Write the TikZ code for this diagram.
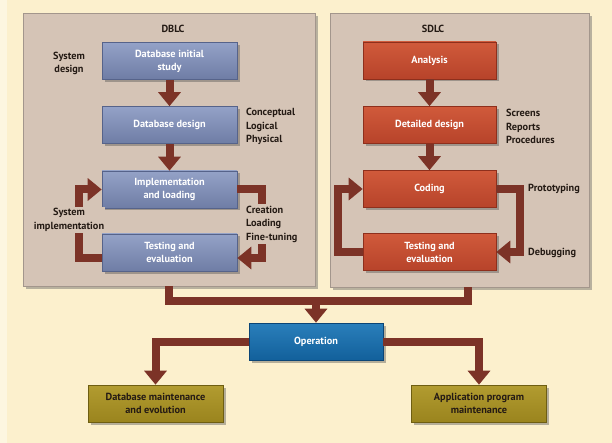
\documentclass[tikz,border=0pt]{standalone}
\usepackage{fontspec}
\setmainfont{PT Sans}
\usetikzlibrary{arrows.meta,shadows}
\definecolor{bg}{HTML}{FCF0CD}
\definecolor{bglight}{HTML}{FDF6E0}
\definecolor{panelc}{HTML}{D5C4B6}
\definecolor{paneledge}{HTML}{A3968C}
\definecolor{arr}{HTML}{7C3327}
\definecolor{lbltext}{HTML}{241A14}
\definecolor{bluetop}{HTML}{94A2C7}
\definecolor{bluebot}{HTML}{6F7DA5}
\definecolor{blueedge}{HTML}{56638A}
\definecolor{redtop}{HTML}{D05A3B}
\definecolor{redbot}{HTML}{B7432A}
\definecolor{rededge}{HTML}{8E2F1C}
\definecolor{optop}{HTML}{2A7FBB}
\definecolor{opbot}{HTML}{12609B}
\definecolor{opedge}{HTML}{0B4576}
\definecolor{oltop}{HTML}{B29C30}
\definecolor{olbot}{HTML}{9A841E}
\definecolor{oledge}{HTML}{6E5E12}
\begin{document}
\begin{tikzpicture}[x=1pt,y=-1pt,
  panel/.style={fill=panelc, draw=paneledge, line width=0.8pt,
    drop shadow={shadow xshift=3pt,shadow yshift=-3pt,opacity=0.45,fill=black!60}},
  box/.style={minimum height=37pt, inner sep=2pt, align=center, text=white,
    font=\bfseries\fontsize{10.3}{13}\selectfont, line width=0.6pt,
    drop shadow={shadow xshift=2.5pt,shadow yshift=-2.5pt,opacity=0.4,fill=black!70}},
  bluebox/.style={box, minimum width=135pt, top color=bluetop, bottom color=bluebot, draw=blueedge},
  redbox/.style={box, minimum width=133pt, top color=redtop, bottom color=redbot, draw=rededge},
  opbox/.style={box, minimum width=134pt, top color=optop, bottom color=opbot, draw=opedge},
  olbox/.style={box, minimum width=135pt, top color=oltop, bottom color=olbot, draw=oledge, text=lbltext},
  lbl/.style={font=\bfseries\fontsize{10.3}{13.5}\selectfont, text=lbltext, align=left, inner sep=1pt},
  flow/.style={draw=arr, line width=8pt, -{Triangle[width=22pt,length=14pt]}},
  conn/.style={draw=arr, line width=8pt}]
\useasboundingbox (0,0) rectangle (612,443);
\fill[bg] (0,0) rectangle (612,443);
\fill[bglight] (0,0) rectangle (7,443);

% panels
\node[panel, minimum width=292pt, minimum height=273pt] (lp) at (169,149.5) {};
\node[panel, minimum width=259pt, minimum height=274pt] (rp) at (459.5,150) {};
\node[lbl] (dblc) at (173,29) {DBLC};
\node[lbl] (sdlc) at (433,29) {SDLC};

% DBLC boxes
\node[bluebox] (dis) at (169.5,61) {Database initial\\study};
\node[bluebox] (dd) at (169.5,125) {Database design};
\node[bluebox] (impl) at (169.5,189.5) {Implementation\\and loading};
\node[bluebox] (test) at (169.5,252.5) {Testing and\\evaluation};

% SDLC boxes
\node[redbox] (ana) at (429.5,60.5) {Analysis};
\node[redbox] (det) at (429.5,125) {Detailed design};
\node[redbox] (cod) at (429.5,189) {Coding};
\node[redbox] (rtest) at (429.5,252) {Testing and\\evaluation};

% bottom boxes
\node[opbox] (op) at (316,341.5) {Operation};
\node[olbox] (dbm) at (155.5,403.5) {Database maintenance\\and evolution};
\node[olbox] (app) at (479,403.5) {Application program\\maintenance};

% DBLC connectors
\draw[flow] (dis) -- (dd);
\draw[flow] (dd) -- (impl);
\coordinate (tin) at ([yshift=-5.5pt]test.east);
\coordinate (tout) at ([yshift=-5.5pt]test.west);
\draw[flow] (impl.east) -- ++(25,0) |- (tin);
\draw[flow] (tout) -- ++(-23,0) |- (impl.west);

% SDLC connectors
\draw[flow] (ana) -- (det);
\draw[flow] (det) -- (cod);
\draw[flow] (cod.east) -- ++(24,0) |- (rtest.east);
\draw[flow] (rtest.west) -- ++(-25,0) |- (cod.west);

% merge to operation
\coordinate (j) at (316,301);
\draw[conn] (lp.south) -- ++(0,15) -| ([xshift=8.5pt]rp.south);
\draw[flow] (j) -- (op.north);
\draw[flow] (op.west) -| (dbm.north);
\draw[flow] (op.east) -| (app.north);

% labels
\node[lbl, align=center] (sysd) at (69,63.5) {System\\design};
\node[lbl, anchor=west] (cl) at (245,126.5) {Conceptual\\Logical\\Physical};
\node[lbl, anchor=west, fill=panelc, inner ysep=2pt] (clf) at (245,224) {Creation\\Loading\\Fine-tuning};
\node[lbl, align=center, fill=panelc, inner ysep=2pt] (sysi) at (69,220) {System\\implementation};
\node[lbl, anchor=west] (srp) at (505,126.5) {Screens\\Reports\\Procedures};
\node[lbl, anchor=west] (proto) at (527,189) {Prototyping};
\node[lbl, anchor=west] (debug) at (527,253) {Debugging};
\end{tikzpicture}
\end{document}
